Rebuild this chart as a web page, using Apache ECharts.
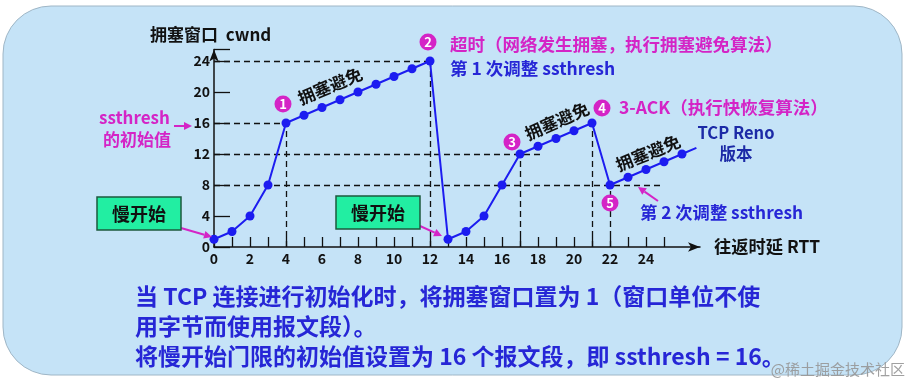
<!DOCTYPE html>
<html><head><meta charset="utf-8">
<script src="https://cdn.jsdelivr.net/npm/echarts@6/dist/echarts.min.js"></script>
<style>html,body{margin:0;padding:0;background:#fff}#c{width:913px;height:392px}</style>
</head><body><div id="c"></div>
<script>
// ---- data ----
var rtt  = [0,1,2,3,4,5,6,7,8,9,10,11,12,13,14,15,16,17,18,19,20,21,22,23,24,25,26,26.8];
var cwnd = [1,2,4,8,16,17,18,19,20,21,22,23,24,1,2,4,8,12,13,14,15,16,8,9,10,11,12,12.8];
var yTicks = [0,4,8,12,16,20,24];
var xTickLabels = [0,2,4,6,8,10,12,14,16,18,20,22,24];
// dashed guide lines: [y, xEnd] horizontal and [x, yEnd] vertical
var hGuides = [[24,12],[16,4],[12,18.2],[8,24.8]];
var vGuides = [[4,16],[12,24],[17,12],[21,16],[22,8]];
var bottomText = [
  '当 TCP 连接进行初始化时，将拥塞窗口置为 1（窗口单位不使',
  '用字节而使用报文段）。',
  '将慢开始门限的初始值设置为 16 个报文段，即 ssthresh = 16。'
];

var FONT = '"Noto Sans CJK SC","Noto Sans",sans-serif';
var MAG = '#d424c6', BLUE = '#2626d6', LINE = '#1c1cf0';

var chart = echarts.init(document.getElementById('c'), null, {renderer:'canvas'});

var pts = rtt.map(function(x,i){
  var d = {value:[x,cwnd[i]]};
  if (i === rtt.length-1) { d.symbol = 'none'; }
  return d;
});
var ml = [];
hGuides.forEach(function(g){ ml.push([{coord:[0,g[0]]},{coord:[g[1],g[0]]}]); });
vGuides.forEach(function(g){ ml.push([{coord:[g[0],0]},{coord:[g[0],g[1]]}]); });

function txt(x,y,s,size,color,opts){
  var o = {type:'text', x:x, y:y, z:50, style:{text:s, fill:color, font:'bold '+size+'px '+FONT, textAlign:'left', textVerticalAlign:'middle'}};
  if (opts) { for (var k in opts) { if (k==='style'){ for (var j in opts.style) o.style[j]=opts.style[j]; } else o[k]=opts[k]; } }
  return o;
}
function arrow(x1,y1,x2,y2,color){
  var a = Math.atan2(y2-y1,x2-x1), L=8, W=4;
  var bx = x2 - L*Math.cos(a), by = y2 - L*Math.sin(a);
  return {type:'group', z:50, children:[
    {type:'line', z:50, shape:{x1:x1,y1:y1,x2:bx,y2:by}, style:{stroke:color, lineWidth:2}},
    {type:'polygon', z:50, shape:{points:[[x2,y2],[bx - W*Math.sin(a), by + W*Math.cos(a)],[bx + W*Math.sin(a), by - W*Math.cos(a)]]}, style:{fill:color}}
  ]};
}
function badge(x,y,n){
  return {type:'group', z:60, children:[
    {type:'circle', z:60, shape:{cx:x,cy:y,r:8.5}, style:{fill:MAG}},
    {type:'text', z:61, x:x, y:y+0.5, style:{text:String(n), fill:'#fff', font:'bold 13px '+FONT, textAlign:'center', textVerticalAlign:'middle'}}
  ]};
}
function slowBox(x,y){
  return {type:'group', z:55, children:[
    {type:'rect', z:55, shape:{x:x,y:y,width:84,height:33}, style:{fill:'#22eea2', stroke:'#1d5a3e', lineWidth:1.5}},
    {type:'text', z:56, x:x+42, y:y+17, style:{text:'慢开始', fill:'#111', font:'bold 18px '+FONT, textAlign:'center', textVerticalAlign:'middle'}}
  ]};
}
function rotLabel(cx,cy,deg){
  return {type:'text', z:50, x:cx, y:cy, rotation:deg*Math.PI/180,
    style:{text:'拥塞避免', fill:'#111', font:'bold 17px '+FONT, textAlign:'center', textVerticalAlign:'middle'}};
}

var graphics = [
  {type:'rect', z:-100, shape:{x:3,y:6,width:899,height:369,r:48}, style:{fill:'#c5e3f7', stroke:'#9fb6c6', lineWidth:1}},
  txt(150,35,'拥塞窗口  cwnd',17,'#111'),
  txt(99,118,'ssthresh',17,MAG),
  txt(103,140,'的初始值',17,MAG),
  arrow(174,126,192,126,MAG),
  slowBox(97,197),
  arrow(181,228,212,237,MAG),
  slowBox(336,196),
  arrow(420,226,442,236,MAG),
  badge(283,104,1), badge(428,42,2), badge(512,142,3), badge(602,108,4), badge(610,203,5),
  rotLabel(330,86,23), rotLabel(557,121,24), rotLabel(648,153,22),
  txt(450,44,'超时（网络发生拥塞，执行拥塞避免算法）',17.5,MAG),
  txt(450,68,'第 1 次调整 ssthresh',17.5,BLUE),
  txt(619,107,'3-ACK（执行快恢复算法）',17.5,MAG),
  txt(736,133,'TCP Reno',16.5,'#1c2aa6',{style:{textAlign:'center'}}),
  txt(736,154,'版本',16.5,'#1c2aa6',{style:{textAlign:'center'}}),
  txt(640,212,'第 2 次调整 ssthresh',17.3,BLUE),
  arrow(658,201,638,187,MAG),
  txt(714,246,'往返时延 RTT',17.3,'#111'),
  txt(135,296,bottomText[0],23,BLUE),
  txt(135,326,bottomText[1],23,BLUE),
  txt(135,356,bottomText[2],23,BLUE),
  {type:'text', z:70, x:905, y:369, style:{text:'@稀土掘金技术社区', fill:'rgba(150,150,150,0.9)', font:'15px '+FONT, textAlign:'right', textVerticalAlign:'middle'}}
];

var labelFont = {color:'#111', fontWeight:'bold', fontSize:14, fontFamily:FONT};
chart.setOption({
  animation:false,
  backgroundColor:'#fff',
  grid:[
    {left:214, right:213, top:49.4, bottom:145},
    {left:214, width:450, top:49.4, bottom:145}
  ],
  xAxis:[
    {type:'value', gridIndex:0, min:0, max:27, interval:1,
     axisLine:{show:true, lineStyle:{color:'#111', width:1.5}, symbol:['none','arrow'], symbolSize:[7,12]},
     axisTick:{show:false}, axisLabel:{show:false}, splitLine:{show:false}},
    {type:'value', gridIndex:1, min:0, max:25, interval:1,
     axisLine:{show:false}, axisTick:{show:true, inside:true, length:10, lineStyle:{color:'#111', width:1.3}},
     axisLabel:Object.assign({margin:5, formatter:function(v){ return xTickLabels.indexOf(v)>=0 ? String(v) : ''; }}, labelFont),
     splitLine:{show:false}}
  ],
  yAxis:[
    {type:'value', gridIndex:0, min:0, max:25.5, interval:4,
     axisLine:{show:true, lineStyle:{color:'#111', width:1.5}, symbol:['none','arrow'], symbolSize:[7,12]},
     axisTick:{show:true, inside:true, length:16, lineStyle:{color:'#111', width:1.3}},
     axisLabel:Object.assign({margin:4, formatter:function(v){ return yTicks.indexOf(v)>=0 ? String(v) : ''; }}, labelFont),
     splitLine:{show:false}},
    {type:'value', gridIndex:1, min:0, max:25.5, show:false}
  ],
  series:[{
    type:'line', xAxisIndex:0, yAxisIndex:0, data:pts, z:10,
    symbol:'circle', symbolSize:9,
    lineStyle:{color:LINE, width:2}, itemStyle:{color:LINE},
    markLine:{silent:true, symbol:['none','none'], label:{show:false}, animation:false,
      lineStyle:{color:'#111', type:[6,4], width:1.3}, data:ml}
  }],
  graphic:graphics
});
</script></body></html>
